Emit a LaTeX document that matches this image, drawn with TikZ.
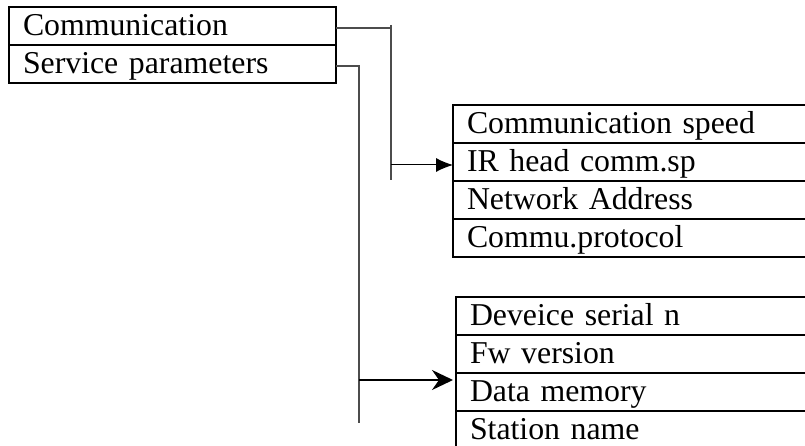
\documentclass[tikz,border=0pt]{standalone}
\usepackage{fontspec}
\setmainfont{Liberation Serif}
\usepackage{tikz}
\usetikzlibrary{positioning,arrows.meta}

\tikzset{
    menurow/.style={draw, line width=1.6pt, anchor=north west, outer sep=0pt,
        inner xsep=14pt, inner ysep=0pt, minimum height=38pt,
        text height=28.5pt, text depth=9.5pt, align=left,
        font=\fontsize{31.8}{38}\selectfont},
    mainrow/.style={menurow, text width=299pt},
    subrow/.style={menurow, text width=420pt},
    link/.style={line width=1.1pt, black!70},
}

\begin{document}
\begin{tikzpicture}[x=1pt,y=-1pt]
    \clip (0,0) rectangle (805,446);
    % main menu
    \node[mainrow] (comm) at (9,7) {Communication};
    \node[mainrow] (service) [below=0pt of comm.south west, anchor=north west] {Service parameters};
    % communication submenu
    \node[subrow] (speed) at (453,105) {Communication speed};
    \node[subrow] (irhead) [below=0pt of speed.south west, anchor=north west] {IR head comm.sp};
    \node[subrow] (netaddr) [below=0pt of irhead.south west, anchor=north west] {Network Address};
    \node[subrow] (protocol) [below=0pt of netaddr.south west, anchor=north west] {Commu.protocol};
    % service submenu
    \node[subrow] (serial) at (456,297) {Deveice serial n};
    \node[subrow] (fwver) [below=0pt of serial.south west, anchor=north west] {Fw version};
    \node[subrow] (datamem) [below=0pt of fwver.south west, anchor=north west] {Data memory};
    \node[subrow] (station) [below=0pt of datamem.south west, anchor=north west] {Station name};

    \coordinate (commtop) at (391,25);
    \coordinate (commbot) at (391,180);
    \coordinate (servbot) at (359,423);

    \draw[link] ([yshift=-2pt]comm.east) -- ([yshift=-2pt]comm.east -| commtop);
    \draw[link] (commtop) -- (commbot);
    \draw[line width=1pt, -{Latex[length=17pt,width=14pt]}]
        ([yshift=-3pt]irhead.west -| commtop) -- ([yshift=-3pt]irhead.west);
    \draw[link] ([yshift=-2pt]service.east) -| (servbot);
    \draw[line width=2pt, -{Stealth[length=21pt,width=20pt,inset=7pt]}, shorten >=3pt]
        ([yshift=-7pt]datamem.north west -| servbot) -- ([yshift=-7pt]datamem.north west);
\end{tikzpicture}
\end{document}
